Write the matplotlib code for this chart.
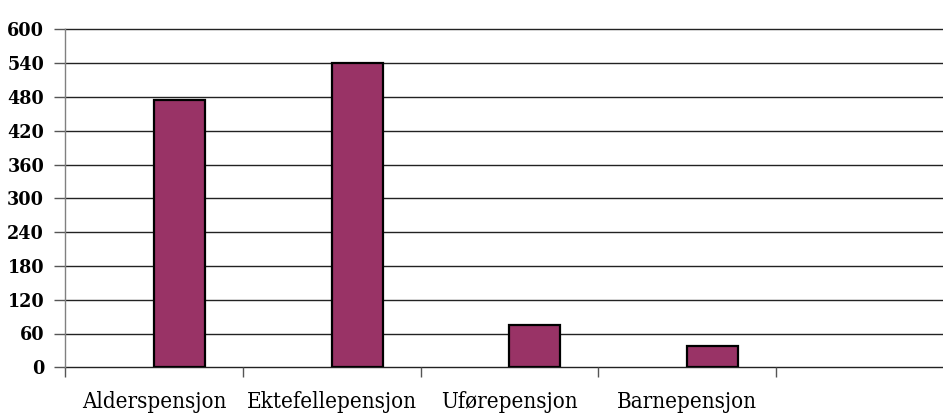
import numpy as np
import matplotlib
matplotlib.use("Agg")
import matplotlib.pyplot as plt

categories = ["Alderspensjon", "Ektefellepensjon", "Uførepensjon", "Barnepensjon"]
values = [475, 540, 75, 37]
y_ticks = [0, 60, 120, 180, 240, 300, 360, 420, 480, 540, 600]
n_slots = 5  # last slot on the axis is left empty

fig = plt.figure(figsize=(9.43, 4.16), dpi=100)
ax = fig.add_axes([65 / 943, 1 - 367.3 / 416, 888.75 / 943, 338 / 416])

x = np.arange(len(categories))
bar_w = 51 / 177.75
ax.bar(x + 0.5 + bar_w / 2, values, width=bar_w, color="#993366",
       edgecolor="black", linewidth=1.6, zorder=3)

ax.set_xlim(0, n_slots)
ax.set_ylim(0, 600)
ax.set_yticks(y_ticks)
ax.set_yticklabels([str(v) for v in y_ticks])
for v in y_ticks:
    ax.axhline(v, color="#222222", linewidth=1.0, zorder=1, clip_on=False)

# boundaries between categories get tick marks, centres get the labels
ax.set_xticks(np.arange(n_slots))
ax.set_xticklabels([])
ax.set_xticks(x + 0.5, minor=True)
ax.set_xticklabels(categories, minor=True)
ax.tick_params(axis="x", which="major", length=7, color="#555555", width=1)
ax.tick_params(axis="x", which="minor", length=0, pad=17)
ax.tick_params(axis="y", length=8, color="#555555", width=1, pad=7)

for spine in ["top", "right", "bottom"]:
    ax.spines[spine].set_visible(False)
ax.spines["left"].set_color("#808080")
ax.spines["left"].set_linewidth(1.0)

for lbl in ax.get_yticklabels():
    lbl.set_fontfamily("DejaVu Serif")
    lbl.set_fontstretch("condensed")
    lbl.set_fontweight("bold")
    lbl.set_fontsize(14)
for lbl in ax.get_xticklabels(minor=True):
    lbl.set_fontfamily("DejaVu Serif")
    lbl.set_fontstretch("condensed")
    lbl.set_fontsize(16)

fig.savefig("out.png", dpi=100)
